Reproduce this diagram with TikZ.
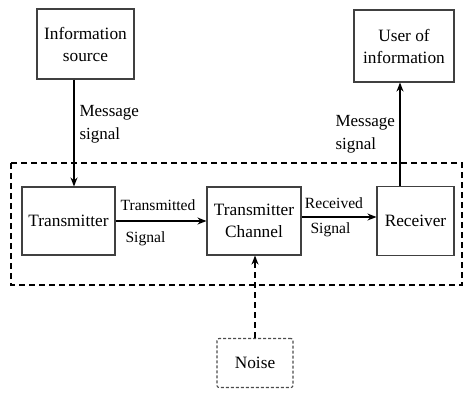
\documentclass[tikz,border=0pt]{standalone}
\usepackage{fontspec}
\setmainfont{Liberation Serif}
\usetikzlibrary{arrows.meta}

\begin{document}
\begin{tikzpicture}[x=1pt, y=-1pt, line width=1pt,
  blk/.style={draw=black!75, line width=1.1pt, align=center, inner sep=2pt, font=\fontsize{17.3}{22}\selectfont},
  lbl/.style={font=\fontsize{15.6}{23}\selectfont, align=left, inner sep=0pt},
  msg/.style={font=\fontsize{17}{23}\selectfont, align=left, inner sep=0pt},
  arr/.style={-{Stealth[length=9pt,width=7pt]}, line width=1.3pt},
  dashline/.style={dash pattern=on 6pt off 4pt, line width=1.4pt}]
\useasboundingbox (0,0) rectangle (476,402);
% ---- blocks
\node[blk, minimum width=97, minimum height=70] (src) at (85.5,44) {Information\\ source};
\node[blk, minimum width=100, minimum height=72] (usr) at (404,46) {User of\\ information};
\node[blk, minimum width=93, minimum height=68] (tx) at (68.5,221) {Transmitter};
\node[blk, minimum width=94, minimum height=68] (ch) at (254,221) {Transmitter\\ Channel};
\node[blk, minimum width=77, minimum height=69] (rx) at (415.5,221) {Receiver};
\node[blk, draw=black!70, dash pattern=on 3pt off 2pt, rounded corners=2pt, minimum width=76, minimum height=49] (noise) at (255,363) {Noise};
% ---- dashed enclosure
\draw[dashline] (11,163) rectangle (462,285);
% ---- connectors
\draw[arr] ([xshift=-11.5pt]src.south) -- ([xshift=5.5pt]tx.north);
\draw[arr] (tx.east) -- (ch.west);
\draw[arr] ([yshift=4pt]ch.east) -- ([yshift=4pt]rx.west);
\draw[arr] ([xshift=-15.5pt]rx.north) -- ([xshift=-4pt]usr.south);
\draw[arr, dashline] (noise.north) -- (noise.north |- ch.south);
% ---- labels
\node[msg, anchor=west] (msgin) at (79,124) {Message\\ signal};
\node[msg, anchor=west] (msgout) at (335,134) {Message\\ signal};
\node[lbl] (txsig) at (158,205) {Transmitted};
\node[lbl, anchor=west] (txsig2) at (125,239) {Signal};
\node[lbl] (rxsig) at (334,203) {Received};
\node[lbl, anchor=west] (rxsig2) at (310,230) {Signal};
\end{tikzpicture}
\end{document}
